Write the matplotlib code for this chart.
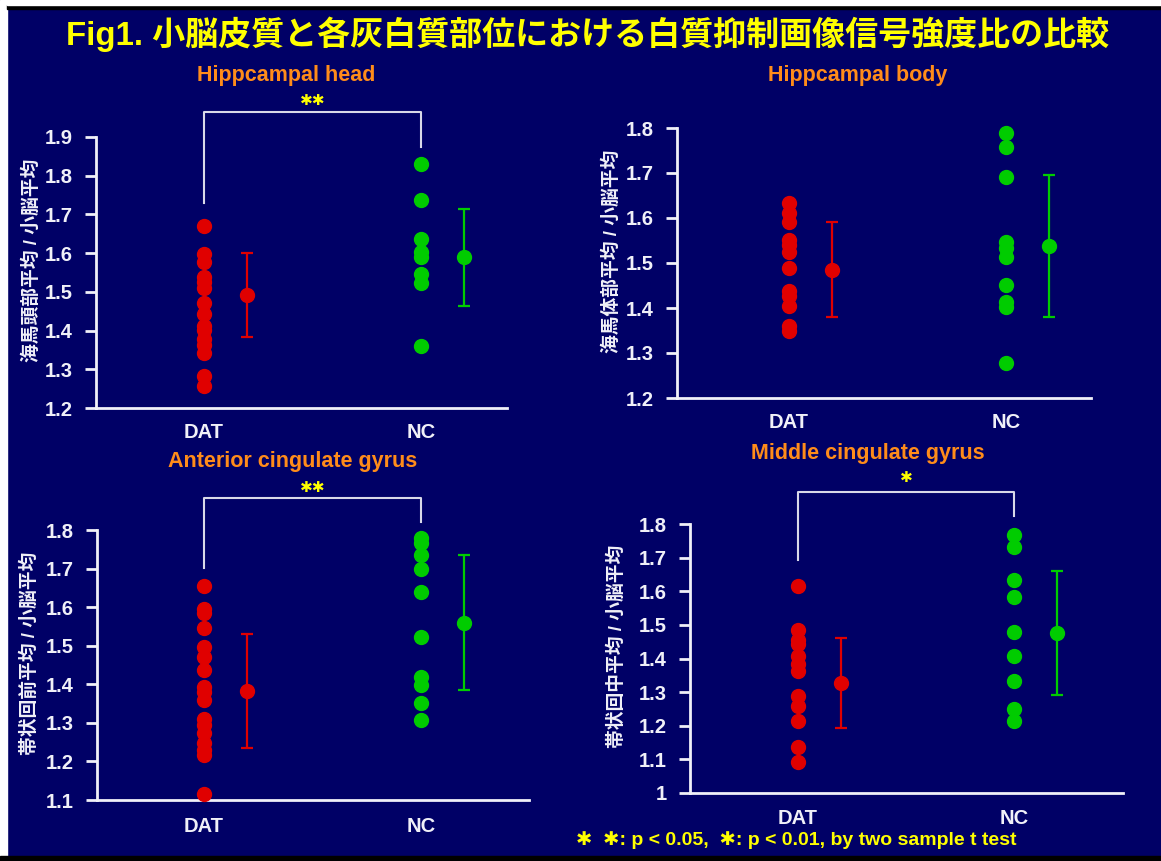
import matplotlib.pyplot as plt
import matplotlib.patches as mpatches
from matplotlib.ticker import FuncFormatter

plt.rcParams['font.family'] = ['Liberation Sans', 'Noto Sans CJK JP', 'DejaVu Sans']

W, H = 1161, 861
NAVY = '#000066'
RED = '#e00000'
GREEN = '#00cc00'
WHITE = '#f0f0f8'

groups = ['DAT', 'NC']

# individual ratios per region (white matter suppressed image, region / cerebellum)
head_dat = [1.670, 1.598, 1.578, 1.539, 1.526, 1.511, 1.470, 1.443, 1.413, 1.401,
            1.377, 1.362, 1.342, 1.282, 1.256]
head_nc = [1.831, 1.738, 1.636, 1.604, 1.591, 1.546, 1.522, 1.360]
body_dat = [1.633, 1.611, 1.590, 1.552, 1.540, 1.524, 1.489, 1.437, 1.427, 1.405,
            1.359, 1.348]
body_nc = [1.788, 1.758, 1.691, 1.546, 1.533, 1.513, 1.452, 1.413, 1.403, 1.278]
acg_dat = [1.656, 1.594, 1.584, 1.545, 1.497, 1.472, 1.437, 1.394, 1.381, 1.359,
           1.309, 1.294, 1.273, 1.247, 1.229, 1.217, 1.116]
acg_nc = [1.778, 1.767, 1.735, 1.700, 1.640, 1.522, 1.420, 1.398, 1.351, 1.307]
mcg_dat = [1.615, 1.484, 1.456, 1.444, 1.406, 1.384, 1.362, 1.287, 1.258, 1.213,
           1.136, 1.091]
mcg_nc = [1.766, 1.731, 1.632, 1.583, 1.478, 1.406, 1.332, 1.250, 1.213]

# group mean and SD
head_mean = [1.492, 1.589]
head_sd = [0.108, 0.125]
body_mean = [1.485, 1.538]
body_sd = [0.105, 0.158]
acg_mean = [1.383, 1.560]
acg_sd = [0.147, 0.174]
mcg_mean = [1.327, 1.476]
mcg_sd = [0.134, 0.184]

titles = ['Hippcampal head', 'Hippcampal body',
          'Anterior cingulate gyrus', 'Middle cingulate gyrus']
ylabels = ['海馬頭部平均 / 小脳平均', '海馬体部平均 / 小脳平均',
           '帯状回前平均 / 小脳平均', '帯状回中平均 / 小脳平均']
signif = ['✱✱', '', '✱✱', '✱']
yticks = [[1.2, 1.3, 1.4, 1.5, 1.6, 1.7, 1.8, 1.9],
          [1.2, 1.3, 1.4, 1.5, 1.6, 1.7, 1.8],
          [1.1, 1.2, 1.3, 1.4, 1.5, 1.6, 1.7, 1.8],
          [1.0, 1.1, 1.2, 1.3, 1.4, 1.5, 1.6, 1.7, 1.8]]

points = [(head_dat, head_nc), (body_dat, body_nc), (acg_dat, acg_nc), (mcg_dat, mcg_nc)]
means = [head_mean, body_mean, acg_mean, mcg_mean]
sds = [head_sd, body_sd, acg_sd, mcg_sd]

# panel layout in pixels: spine x, right end, bottom y, top y, xlim, title pos, ylabel x, bracket
layout = [
    dict(l=96, r=507, b=408, t=137, xlim=(-0.498, 1.396), title=(286, 75), ylab=32,
         cat_y=432, br=(1.965, 1.730, 1.874, 1.993)),
    dict(l=677, r=1091, b=398, t=128, xlim=(-0.516, 1.392), title=(858, 75), ylab=612,
         cat_y=423, br=None),
    dict(l=97, r=529, b=800, t=530, xlim=(-0.493, 1.498), title=(293, 462), ylab=30,
         cat_y=826, br=(1.883, 1.701, 1.821, 1.909)),
    dict(l=690, r=1123, b=793, t=524, xlim=(-0.50, 1.505), title=(868, 453), ylab=617,
         cat_y=818, br=(1.895, 1.693, 1.824, 1.937)),
]


def px(x, y):
    return x / W, 1 - y / H


fig = plt.figure(figsize=(W / 100, H / 100), dpi=100, facecolor=NAVY)

# frame strips around the slide
fig.patches.append(mpatches.Rectangle((0, 0), 7 / W, 1, transform=fig.transFigure,
                                      color='white', zorder=0))
fig.patches.append(mpatches.Rectangle((7 / W, 1 - 9 / H), 1, 4 / H, transform=fig.transFigure,
                                      color='black', zorder=0))
fig.patches.append(mpatches.Rectangle((7 / W, 1 - 5 / H), 1, 5 / H, transform=fig.transFigure,
                                      color='white', zorder=0))
fig.patches.append(mpatches.Rectangle((0, 0), 1, 5 / H, transform=fig.transFigure,
                                      color='black', zorder=0))

fig.text(*px(588, 34), 'Fig1. 小脳皮質と各灰白質部位における白質抑制画像信号強度比の比較',
         color='#ffff00', fontsize=23.8, fontweight='bold', ha='center', va='center')

for i, L in enumerate(layout):
    x0, y1 = px(L['l'], L['b'])
    x1, y2 = px(L['r'], L['t'])
    ax = fig.add_axes([x0, y1, x1 - x0, y2 - y1])
    ax.set_facecolor(NAVY)
    ax.patch.set_alpha(0)
    dat, nc = points[i]
    lo, hi = yticks[i][0], yticks[i][-1]

    ax.plot([0] * len(dat), dat, 'o', color=RED, ms=10, mec=RED, clip_on=False, zorder=3)
    ax.plot([1] * len(nc), nc, 'o', color=GREEN, ms=10, mec=GREEN, clip_on=False, zorder=3)
    for k, c in enumerate([RED, GREEN]):
        ax.errorbar(k + 0.2, means[i][k], yerr=sds[i][k], fmt='o', color=c, ms=10,
                    capsize=4.5, elinewidth=1.6, capthick=1.6, clip_on=False, zorder=3)

    ax.set_xlim(*L['xlim'])
    ax.set_ylim(lo, hi)
    ax.set_yticks(yticks[i])
    ax.yaxis.set_major_formatter(FuncFormatter(lambda v, p: f'{v:g}'))
    ax.set_xticks([])
    for s in ['top', 'right']:
        ax.spines[s].set_visible(False)
    for s in ['left', 'bottom']:
        ax.spines[s].set_color(WHITE)
        ax.spines[s].set_linewidth(2)
    ax.tick_params(axis='y', colors=WHITE, length=8, width=2, pad=9, labelsize=14.5)
    for lab in ax.get_yticklabels():
        lab.set_fontweight('bold')

    fig.text(*px(L['title'][0], L['title'][1]), titles[i], color='#ff8c1a',
             fontsize=15.5, fontweight='bold', ha='center', va='center')
    fig.text(*px(L['ylab'], (L['b'] + L['t']) / 2 - 12), ylabels[i], color=WHITE,
             fontsize=13.5, fontweight='bold', rotation=90, ha='center', va='center')

    for k, g in enumerate(groups):
        xd = ax.transData.transform((k, lo))[0] / W
        fig.text(xd, 1 - L['cat_y'] / H, g, color=WHITE, fontsize=14.5,
                 fontweight='bold', ha='center', va='center')

    if L['br'] is not None:
        top, left_end, right_end, star_y = L['br']
        ax.plot([0, 0, 1, 1], [left_end, top, top, right_end], color='#d8d8e8',
                lw=1.5, clip_on=False)
        ax.text(0.5, star_y, signif[i], color='#ffff00', fontsize=11,
                family='DejaVu Sans', ha='center', va='center', clip_on=False)

fig.text(*px(796, 840), '✱  ✱: p < 0.05,  ✱: p < 0.01, by two sample t test',
         color='#ffff00', fontsize=14, fontweight='bold', ha='center', va='center',
         family=['Liberation Sans', 'DejaVu Sans'])

fig.savefig('out.png', dpi=100, facecolor=NAVY)
